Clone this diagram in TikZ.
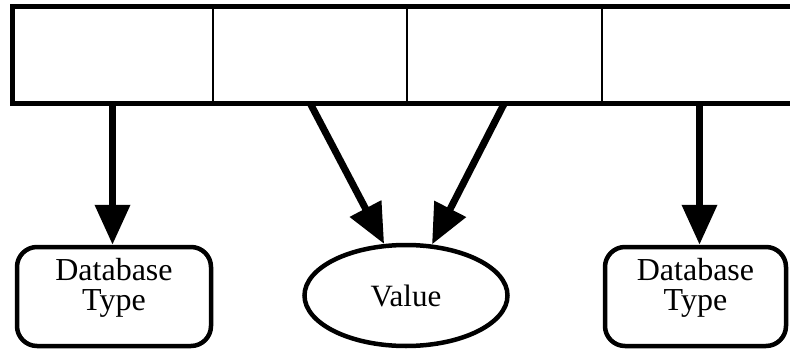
\documentclass[tikz,border=0pt]{standalone}
\usepackage{fontspec}
\setmainfont{Liberation Serif}
\usetikzlibrary{positioning,arrows.meta,shapes.geometric}

\begin{document}
\begin{tikzpicture}[
  x=1pt, y=1pt,
  font=\fontsize{31}{30}\selectfont,
  cell/.style={
    draw,
    line width=1.6pt,
    minimum height=96pt,
    inner sep=0pt,
    outer sep=0pt,
  },
  frame/.style={line width=5pt},
  dbbox/.style={
    draw,
    line width=4.5pt,
    rounded corners=20pt,
    align=center,
    font=\fontsize{32}{30}\selectfont,
    text height=50pt,
    text depth=22pt,
    minimum width=194pt,
    minimum height=99pt,
    inner sep=0pt,
  },
  valnode/.style={
    draw,
    ellipse,
    line width=4.5pt,
    minimum width=203pt,
    minimum height=101pt,
    inner sep=0pt,
  },
  arr/.style={-{Triangle[length=40pt,width=34pt]}, line width=7pt},
]
  \clip (0,0) rectangle (790,349);

  % -------- record cells (top row) --------
  \node[cell, minimum width=201pt] (C1) at (112.5,294) {};
  \node[cell, minimum width=194pt, right=0pt of C1] (C2) {};
  \node[cell, minimum width=195pt, right=0pt of C2] (C3) {};
  \node[cell, minimum width=195pt, right=0pt of C3] (C4) {};
  \draw[frame] (C1.north west) rectangle (C4.south east);

  % -------- targets --------
  \node[dbbox] (DB1) at (114,52.5) {Database\\Type};
  \node[valnode] (Val) at (406,53.5) {Value};
  \node[dbbox, minimum width=181pt] (DB2) at (695.5,52.5) {Database\\Type};

  % -------- arrows --------
  \draw[arr] (C1.south) -- (C1.south |- DB1.north);
  \draw[arr] (C2.south) -- (Val.113);
  \draw[arr] (C3.south) -- (Val.63);
  \draw[arr] (C4.south) -- (C4.south |- DB2.north);
\end{tikzpicture}
\end{document}
